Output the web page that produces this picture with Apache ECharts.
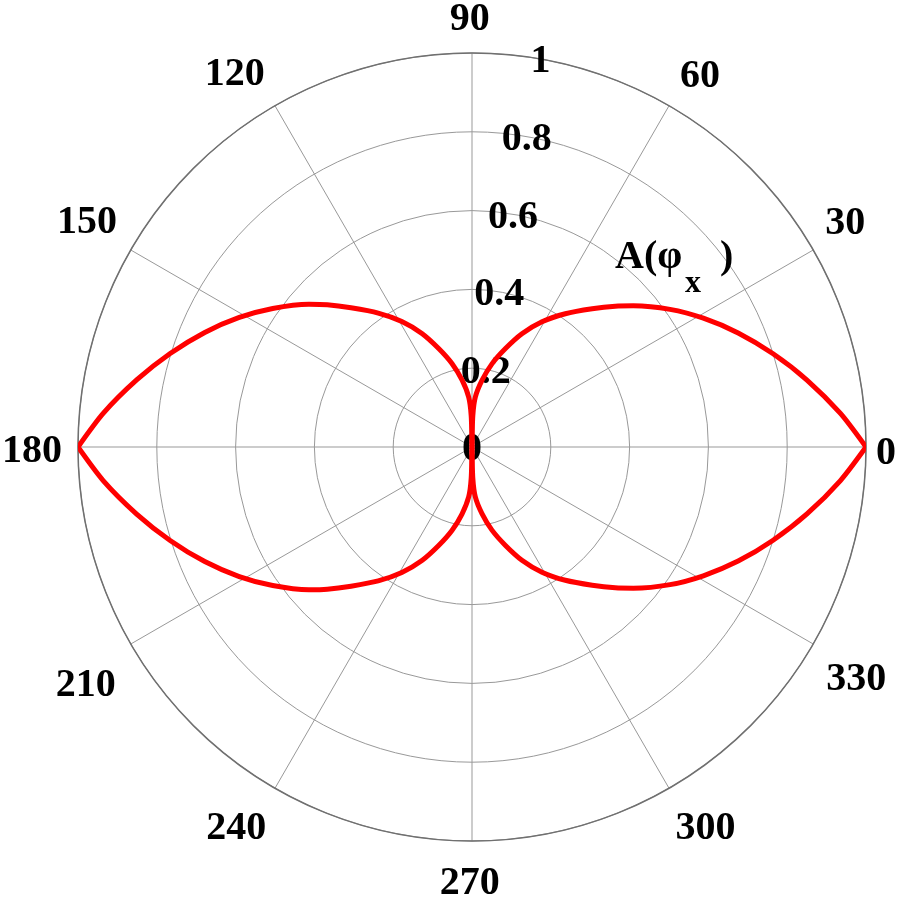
<!DOCTYPE html>
<html>
<head>
<meta charset="utf-8">
<script src="https://cdn.jsdelivr.net/npm/echarts@6/dist/echarts.min.js"></script>
<style>
  html, body { margin: 0; padding: 0; background: #fff; }
  #chart { width: 900px; height: 900px; }
</style>
</head>
<body>
<div id="chart"></div>
<script>
// Angle tick values (degrees) and radial tick labels
var angleTicks = [0, 30, 60, 90, 120, 150, 180, 210, 240, 270, 300, 330];
var radiusTicks = [0, 0.2, 0.4, 0.6, 0.8, 1];

// A(phi_x), four quadrants (tip -> centre)
var q1Angle = [0, 5.2, 11.3, 17.2, 23.2, 29.1, 34.8, 41.2, 44.5, 49, 55, 60.8, 66.2, 71.3, 76.5, 81.5, 86.2, 88.5, 90];
var q1R     = [1.0, 0.939, 0.867, 0.800, 0.735, 0.672, 0.612, 0.544, 0.510, 0.465, 0.413, 0.364, 0.314, 0.263, 0.217, 0.171, 0.127, 0.080, 0];

var q2Angle = [180, 174.8, 168.7, 162.8, 156.8, 150.9, 145.2, 138.8, 135.5, 131, 125, 119.2, 113.8, 108.7, 103.5, 98.5, 93.8, 91.5, 90];
var q2R     = [1.0, 0.940, 0.868, 0.802, 0.738, 0.676, 0.616, 0.550, 0.515, 0.468, 0.415, 0.365, 0.315, 0.264, 0.218, 0.172, 0.127, 0.080, 0];

var q3Angle = [180, 185.2, 191.3, 197.2, 203.2, 209.1, 214.8, 221.2, 224.5, 229, 235, 240.8, 246.2, 251.3, 256.5, 261.5, 266.2, 268.5, 270];
var q3R     = [1.0, 0.940, 0.868, 0.802, 0.738, 0.676, 0.616, 0.550, 0.515, 0.468, 0.415, 0.365, 0.315, 0.264, 0.218, 0.172, 0.127, 0.080, 0];

var q4Angle = [360, 354.8, 348.7, 342.8, 336.8, 330.9, 325.2, 318.8, 315.5, 311, 305, 299.2, 293.8, 288.7, 283.5, 278.5, 273.8, 271.5, 270];
var q4R     = [1.0, 0.939, 0.867, 0.800, 0.735, 0.672, 0.612, 0.544, 0.510, 0.465, 0.413, 0.364, 0.314, 0.263, 0.217, 0.171, 0.127, 0.080, 0];

var annotation = 'A(φ';
var annotationSub = 'x';
var annotationEnd = ')';

// layout only: where each angle label's centre sits (radial distance in axis units, direction in degrees)
var angleLabelDist = [1.051, 1.106, 1.107, 1.089, 1.124, 1.133, 1.117, 1.150, 1.135, 1.104, 1.131, 1.138];
var angleLabelDir  = [359.3, 31.1, 58.5, 90.3, 122.4, 149.6, 180.4, 211.5, 238.2, 269.7, 301.6, 329.0];
var RADIUS_LABEL_ANGLE = 80;

function pairs(rs, as) {
  return rs.map(function (r, i) { return [r, as[i]]; });
}

var FONT = "'Liberation Serif', 'Times New Roman', serif";

function lobe(rs, as) {
  return {
    type: 'line',
    coordinateSystem: 'polar',
    data: pairs(rs, as),
    showSymbol: false,
    symbol: 'none',
    smooth: 0.25,
    z: 5,
    lineStyle: { color: '#ff0000', width: 5 },
    silent: true
  };
}

function textScatter(data, dy) {
  return {
    type: 'scatter',
    coordinateSystem: 'polar',
    data: data,
    symbolSize: 0.01,
    clip: false,
    itemStyle: { color: '#000', opacity: 1 },
    z: 1,
    silent: true,
    label: {
      show: true,
      position: 'inside',
      offset: [0, dy],
      fontFamily: FONT,
      fontWeight: 'bold',
      fontSize: 40,
      color: '#000',
      opacity: 1,
      textBorderWidth: 0,
      formatter: function (p) { return p.name; }
    }
  };
}

var radiusLabelData = radiusTicks.map(function (v) {
  return { name: String(v), value: [v, RADIUS_LABEL_ANGLE] };
});
var angleLabelData = angleTicks.map(function (a, i) {
  return { name: String(a), value: [angleLabelDist[i], angleLabelDir[i]] };
});

var chart = echarts.init(document.getElementById('chart'), null, { renderer: 'canvas' });
chart.setOption({
  animation: false,
  backgroundColor: '#ffffff',
  polar: { center: [472, 447], radius: 394 },
  angleAxis: {
    type: 'value',
    min: 0,
    max: 360,
    interval: 30,
    startAngle: 0,
    clockwise: false,
    axisLine: { show: true, lineStyle: { color: '#707070', width: 1.5 } },
    axisTick: { show: false },
    splitLine: { show: true, lineStyle: { color: '#999', width: 1 } },
    axisLabel: { show: false }
  },
  radiusAxis: {
    type: 'value',
    min: 0,
    max: 1,
    interval: 0.2,
    axisLine: { show: false },
    axisTick: { show: false },
    axisLabel: { show: false },
    splitLine: { show: true, lineStyle: { color: '#999', width: 1 } }
  },
  series: [
    textScatter(radiusLabelData, 3),
    textScatter(angleLabelData, 2),
    lobe(q1R, q1Angle),
    lobe(q2R, q2Angle),
    lobe(q3R, q3Angle),
    lobe(q4R, q4Angle)
  ],
  graphic: [
    { type: 'text', left: 615, top: 238, z: 10,
      style: { text: annotation, font: "bold 40px " + FONT, fill: '#000' } },
    { type: 'text', left: 685, top: 268, z: 10,
      style: { text: annotationSub, font: "bold 32px " + FONT, fill: '#000' } },
    { type: 'text', left: 720, top: 238, z: 10,
      style: { text: annotationEnd, font: "bold 40px " + FONT, fill: '#000' } }
  ]
});
</script>
</body>
</html>
